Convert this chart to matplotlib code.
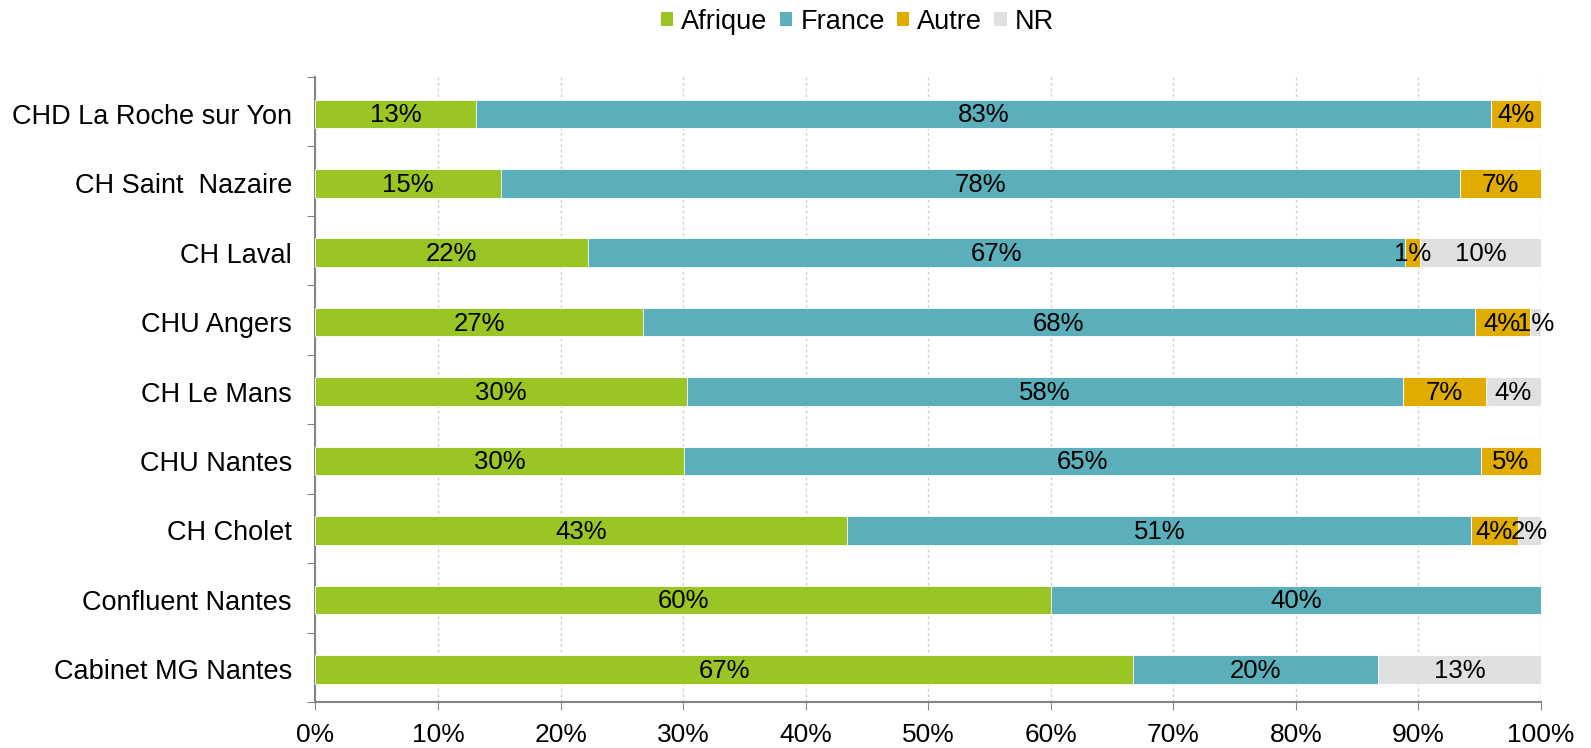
import numpy as np
from matplotlib import pyplot as plt
from matplotlib.patches import Patch

plt.rcParams['font.family'] = ['Liberation Sans', 'DejaVu Sans']

# Donnees (ordre de haut en bas)
sites = ["CHD La Roche sur Yon", "CH Saint  Nazaire", "CH Laval", "CHU Angers",
         "CH Le Mans", "CHU Nantes", "CH Cholet", "Confluent Nantes", "Cabinet MG Nantes"]
afrique = [13.1, 15.1, 22.2, 26.7, 30.3, 30.1, 43.4, 60.0, 66.7]
france = [82.8, 78.3, 66.7, 67.9, 58.4, 65.0, 50.9, 40.0, 20.0]
autre = [4.1, 6.6, 1.2, 4.5, 6.8, 4.9, 3.8, 0.0, 0.0]
nr = [0.0, 0.0, 9.9, 0.9, 4.5, 0.0, 1.9, 0.0, 13.3]

series = ["Afrique", "France", "Autre", "NR"]
colors = ["#99C624", "#5BAFBA", "#E0AC00", "#E0E0E0"]
values = [afrique, france, autre, nr]

fig = plt.figure(figsize=(15.91, 7.48), dpi=100)
ax = fig.add_axes([0.1983, 0.0615, 0.9686 - 0.1983, 0.897 - 0.0615])

y = np.arange(len(sites))
left = np.zeros(len(sites))
for name, col, vals in zip(series, colors, values):
    v = np.array(vals) / 100.0
    ax.barh(y + 0.03, v, left=left, height=0.41, color=col, edgecolor="white",
            linewidth=0.6, zorder=3)
    for yi, (l, w) in enumerate(zip(left, v)):
        if w > 0:
            ax.text(l + w / 2, yi + 0.05, "%d%%" % round(w * 100), ha="center",
                    va="center", fontsize=18.5, color="black", zorder=4)
    left = left + v

ax.set_xlim(0, 1)
ax.set_ylim(len(sites) - 0.5, -0.5)

# Axe X
ax.set_xticks(np.arange(0, 1.01, 0.1))
ax.set_xticklabels(["%d%%" % p for p in range(0, 101, 10)], fontsize=19)
ax.tick_params(axis="x", direction="out", length=6, color="#868686", pad=9)
ax.grid(axis="x", linestyle=(0, (2, 2)), color="#D0D0D0", linewidth=1, zorder=0)

# Axe Y : graduations entre categories, etiquettes au centre
ax.set_yticks(np.arange(-0.5, len(sites), 1.0))
ax.set_yticklabels([])
ax.tick_params(axis="y", which="major", direction="out", length=6, color="#868686")
ax.set_yticks(y + 0.03, minor=True)
ax.set_yticklabels(sites, minor=True, fontsize=19.5)
ax.tick_params(axis="y", which="minor", length=0, pad=17)

for s in ["top", "right"]:
    ax.spines[s].set_visible(False)
for s in ["left", "bottom"]:
    ax.spines[s].set_color("#868686")
    ax.spines[s].set_linewidth(1.5)

handles = [Patch(facecolor=c, edgecolor="none") for c in colors]
fig.legend(handles, series, loc="upper center", bbox_to_anchor=(0.539, 1.021),
           ncol=4, frameon=False, fontsize=19.5, handlelength=0.45,
           handleheight=0.45, handletextpad=0.3, columnspacing=0.45)

fig.savefig("out.png", dpi=100)
